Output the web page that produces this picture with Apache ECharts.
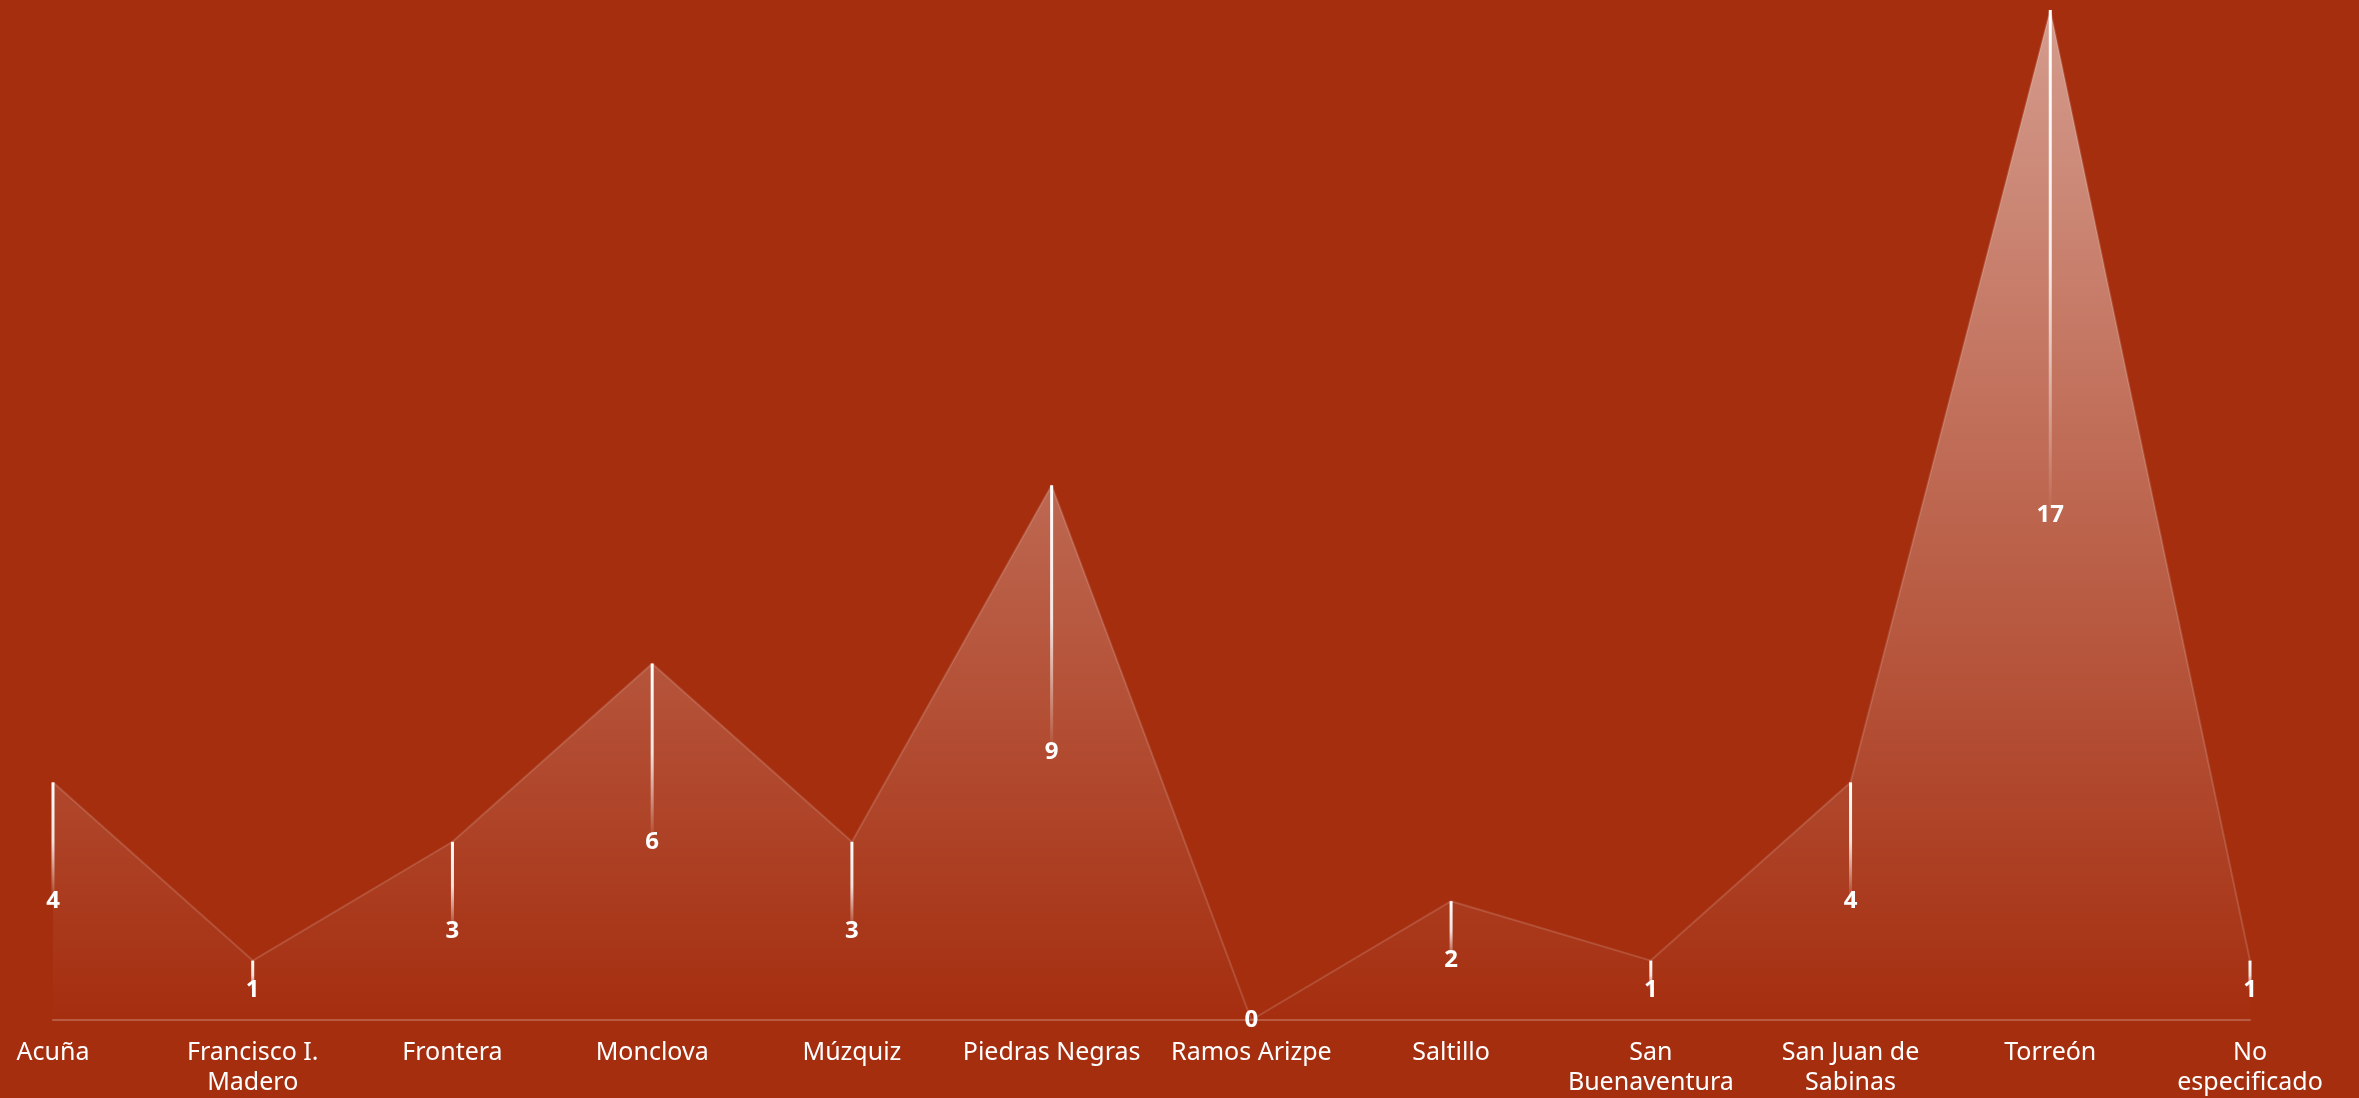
<!DOCTYPE html>
<html><head><meta charset="utf-8">
<style>html,body{margin:0;padding:0;background:#a52e0f;}#c{width:2359px;height:1098px;}</style>
<script src="https://cdn.jsdelivr.net/npm/echarts@6/dist/echarts.min.js"></script>
</head><body><div id="c"></div>
<script>
const categories = ['Acuña','Francisco I. Madero','Frontera','Monclova','Múzquiz','Piedras Negras','Ramos Arizpe','Saltillo','San Buenaventura','San Juan de Sabinas','Torreón','No especificado'];
const tickLabels = ['Acuña','Francisco I.\nMadero','Frontera','Monclova','Múzquiz','Piedras Negras','Ramos Arizpe','Saltillo','San\nBuenaventura','San Juan de\nSabinas','Torreón','No\nespecificado'];
const values = [4,1,3,6,3,9,0,2,1,4,17,1];

const font = 'Century Gothic, "Noto Sans", sans-serif';
const chart = echarts.init(document.getElementById('c'));
chart.setOption({
  backgroundColor: '#a52e0f',
  animation: false,
  grid: {left: 53, right: 109, top: 10, bottom: 77},
  xAxis: {
    type: 'category', data: categories, boundaryGap: false,
    axisLine: {lineStyle: {color: 'rgba(255,255,255,0.22)', width: 2}},
    axisTick: {show: false},
    axisLabel: {interval: 0, color: '#fff', fontFamily: font, fontSize: 25, lineHeight: 30, margin: 18,
      formatter: (v, i) => tickLabels[i]}
  },
  yAxis: {type: 'value', min: 0, max: 17, show: false, splitLine: {show: false}},
  series: [
    {
      type: 'line', data: values, symbol: 'none', z: 1,
      lineStyle: {width: 2, color: 'rgba(255,255,255,0.15)'},
      areaStyle: {color: new echarts.graphic.LinearGradient(0,0,0,1,[
        {offset: 0, color: 'rgba(255,255,255,0.75)'},
        {offset: 1, color: 'rgba(255,255,255,0.0)'}
      ])}
    },
    {
      type: 'bar', data: values, barWidth: 3, z: 3,
      itemStyle: {color: new echarts.graphic.LinearGradient(0,0,0,1,[
        {offset: 0, color: 'rgba(255,255,255,1)'},
        {offset: 0.25, color: 'rgba(255,255,255,0.85)'},
        {offset: 0.5, color: 'rgba(255,255,255,0)'},
        {offset: 1, color: 'rgba(255,255,255,0)'}
      ])},
      label: {show: true, position: 'inside', color: '#fff', fontFamily: font, fontWeight: 'bold', fontSize: 24}
    }
  ]
});
</script></body></html>
